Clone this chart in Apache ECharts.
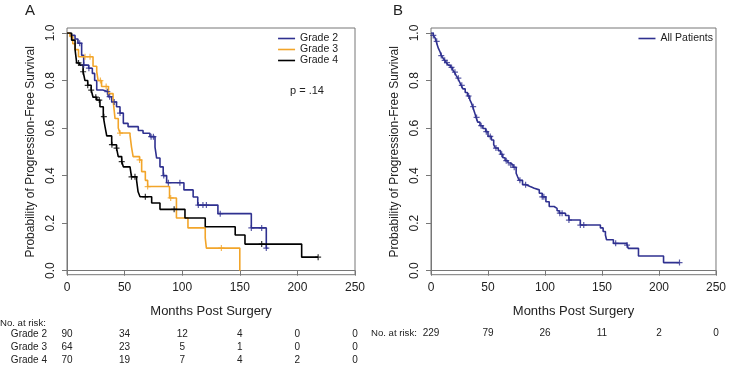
<!DOCTYPE html>
<html>
<head>
<meta charset="utf-8">
<script src="https://cdn.jsdelivr.net/npm/echarts@6/dist/echarts.min.js"></script>
<style>html,body{margin:0;background:#fff}#km{width:729px;height:366px}</style>
</head>
<body>
<div id="km"></div>
<script>
// Kaplan-Meier steps: [months, survival]
var grade2 = [[0,1],[3,0.99],[7,0.975],[9.5,0.957],[12.7,0.906],[14.5,0.865],[18.8,0.852],[22,0.83],[24,0.8],[25.8,0.76],[31,0.753],[35.7,0.732],[38.8,0.71],[43,0.69],[46,0.663],[48.9,0.62],[53,0.606],[61.9,0.59],[66,0.578],[72,0.564],[76.4,0.52],[77.8,0.474],[80.7,0.437],[83.5,0.4],[86.5,0.37],[101.5,0.34],[109.5,0.31],[113.5,0.276],[131,0.24],[160,0.18],[173,0.095],[174,0.095]];
var grade3 = [[0,1],[2.5,0.985],[5,0.955],[7,0.93],[10,0.9],[22.6,0.86],[25.8,0.837],[27,0.8],[30,0.775],[36,0.745],[40,0.718],[41.7,0.64],[44.5,0.6],[46,0.579],[54.7,0.57],[56,0.52],[57.4,0.48],[63,0.466],[64.8,0.417],[68,0.38],[70,0.354],[89,0.306],[95,0.222],[105,0.18],[120,0.138],[121,0.095],[150,0]];
var grade4 = [[0,1],[4,0.97],[7,0.93],[8.4,0.874],[11,0.865],[14,0.837],[15.6,0.8],[18,0.78],[21,0.76],[22.6,0.73],[25.8,0.718],[28.6,0.69],[31.5,0.648],[33,0.606],[34.5,0.567],[38.8,0.53],[43,0.516],[44.5,0.48],[47.5,0.459],[48.9,0.437],[54.7,0.432],[56,0.395],[60.4,0.38],[61.7,0.332],[63.4,0.311],[73.5,0.285],[80.7,0.258],[102.4,0.222],[120,0.185],[146,0.15],[154.5,0.112],[203.7,0.057],[218,0.057]];
var allPatients = [[0,1],[2,0.99],[3.5,0.98],[4.5,0.965],[5.5,0.95],[6.5,0.935],[8,0.92],[9,0.905],[10.5,0.895],[12,0.885],[13.5,0.875],[15,0.865],[17,0.855],[19,0.845],[20.5,0.835],[22,0.822],[23.5,0.81],[25,0.795],[26.5,0.78],[28,0.765],[30,0.75],[32,0.735],[34,0.72],[35.5,0.705],[36.6,0.69],[38.3,0.665],[39.5,0.645],[41,0.625],[43,0.61],[45.5,0.598],[48,0.585],[50,0.565],[53,0.55],[55,0.53],[56.5,0.516],[59,0.505],[61,0.49],[63,0.475],[65,0.463],[67.5,0.453],[70,0.445],[72,0.435],[74.7,0.41],[76,0.395],[77.5,0.38],[80.3,0.362],[83.4,0.354],[87,0.347],[90.6,0.34],[95,0.326],[97.6,0.311],[100.8,0.29],[103.7,0.27],[108,0.262],[110.6,0.252],[112.5,0.242],[118,0.232],[121,0.213],[131,0.192],[148.6,0.18],[151,0.165],[153,0.15],[154,0.13],[160,0.115],[171.6,0.108],[173,0.094],[182,0.062],[204,0.034],[218,0.034]];

// censored times (+ marks)
var cens2 = [11,14.5,19,35,37,41,46,73,75,84,88,98,114,118,121,133,160,169,173];
var cens3 = [15.6,20,29,34,46,63,70,90,134];
var cens4 = [10,14,18,21,25,28,32,39,43,47.5,56,59,68,93,169,218];
var censAll = [2,5,9,12,14,18,21,24,27,33,37,40,44,48.5,52,57,62,66,70,73,78,83,97.6,99,113,115,121,131,134,162,172,218];

var xTicks = [0,50,100,150,200,250];
var riskA = {
  'Grade 2': [90,34,12,4,0,0],
  'Grade 3': [64,23,5,1,0,0],
  'Grade 4': [70,19,7,4,2,0]
};
var riskB = [229,79,26,11,2,0];

var BLUE = '#2f3190', ORANGE = '#f2a52a', BLACK = '#000000', AX = '#777777', TXT = '#222222';
var FONT = 'Liberation Sans, Arial, sans-serif';

function survAt(curve, t) {
  var s = 1;
  for (var i = 0; i < curve.length; i++) { if (curve[i][0] <= t) s = curve[i][1]; }
  return s;
}
function marks(curve, times) { return times.map(function (t) { return [t, survAt(curve, t)]; }); }

var CROSS = 'path://M4,0H6V4H10V6H6V10H4V6H0V4H4Z';

function xAx(i) {
  return {
    type: 'value', gridIndex: i, min: 0, max: 250, interval: 50, offset: 4,
    axisLine: { show: true, lineStyle: { color: AX } },
    axisTick: { show: true, length: 5, lineStyle: { color: AX } },
    axisLabel: { fontSize: 12, color: TXT, margin: 7, fontFamily: FONT },
    splitLine: { show: false },
    name: 'Months Post Surgery', nameLocation: 'middle', nameGap: 30,
    nameTextStyle: { fontSize: 13, color: TXT, fontFamily: FONT }
  };
}
function yAx(i) {
  return {
    type: 'value', gridIndex: i, min: 0, max: 1, interval: 0.2,
    axisLine: { show: true, lineStyle: { color: AX } },
    axisTick: { show: true, length: 5, lineStyle: { color: AX } },
    axisLabel: { fontSize: 12, color: TXT, rotate: 90, margin: 10, fontFamily: FONT,
      formatter: function (v) { return v.toFixed(1); } },
    splitLine: { show: false },
    name: 'Probability of Progression-Free Survival', nameLocation: 'middle', nameGap: 30,
    nameTextStyle: { fontSize: 12, color: TXT, fontFamily: FONT }
  };
}
function km(name, data, color, i) {
  return { name: name, type: 'line', step: 'end', data: data, xAxisIndex: i, yAxisIndex: i,
    symbol: 'none', lineStyle: { color: color, width: 1.6 }, itemStyle: { color: color },
    animation: false, z: 3 };
}
function cens(data, color, i) {
  return { type: 'scatter', data: data, xAxisIndex: i, yAxisIndex: i, symbol: CROSS,
    symbolSize: 6, itemStyle: { color: color }, animation: false, z: 4, silent: true };
}
function leg(names, right) {
  return { data: names, orient: 'vertical', right: right, top: 33, icon: 'rect',
    itemWidth: 17, itemHeight: 1.6, itemGap: 0, padding: 0,
    textStyle: { fontSize: 10.5, lineHeight: 10, color: TXT, fontFamily: FONT } };
}

var chart = echarts.init(document.getElementById('km'), null, { renderer: 'canvas' });
chart.setOption({
  animation: false,
  textStyle: { fontFamily: FONT },
  grid: [
    { left: 67, right: 374, top: 33, bottom: 95.3 },
    { left: 431, right: 11, top: 33, bottom: 95.3 }
  ],
  xAxis: [xAx(0), xAx(1)],
  yAxis: [yAx(0), yAx(1)],
  legend: [leg(['Grade 2', 'Grade 3', 'Grade 4'], 391), leg(['All Patients'], 16)],
  series: [
    km('Grade 2', grade2, BLUE, 0),
    km('Grade 3', grade3, ORANGE, 0),
    km('Grade 4', grade4, BLACK, 0),
    cens(marks(grade2, cens2), BLUE, 0),
    cens(marks(grade3, cens3), ORANGE, 0),
    cens(marks(grade4, cens4), BLACK, 0),
    km('All Patients', allPatients, BLUE, 1),
    cens(marks(allPatients, censAll), BLUE, 1)
  ]
});

// frame, panel letters, p value and numbers at risk
var g = [];
function txt(x, y, s, size, align) {
  g.push({ type: 'text', x: x, y: y, silent: true,
    style: { text: s, fontSize: size, fill: TXT, fontFamily: FONT, align: align || 'left', verticalAlign: 'middle' } });
}
[0, 1].forEach(function (i) {
  var p0 = chart.convertToPixel({ gridIndex: i }, [0, 0]);
  var p1 = chart.convertToPixel({ gridIndex: i }, [250, 1]);
  g.push({ type: 'rect', silent: true,
    shape: { x: p0[0], y: p1[1] - 5, width: p1[0] - p0[0], height: p0[1] - p1[1] + 9 },
    style: { fill: 'none', stroke: AX, lineWidth: 1 } });
});
txt(25, 11, 'A', 15);
txt(393, 11, 'B', 15);
txt(290, 91, 'p = .14', 11);

txt(0, 323, 'No. at risk:', 9.6);
var rowY = [334, 347, 360];
Object.keys(riskA).forEach(function (k, r) {
  txt(47, rowY[r], k, 10, 'right');
  riskA[k].forEach(function (n, j) {
    var x = chart.convertToPixel({ xAxisIndex: 0 }, xTicks[j]);
    txt(x, rowY[r], String(n), 10, 'center');
  });
});
txt(371, 333, 'No. at risk:', 9.6);
riskB.forEach(function (n, j) {
  var x = chart.convertToPixel({ xAxisIndex: 1 }, xTicks[j]);
  txt(x, 333, String(n), 10, 'center');
});
chart.setOption({ graphic: g });
</script>
</body>
</html>
